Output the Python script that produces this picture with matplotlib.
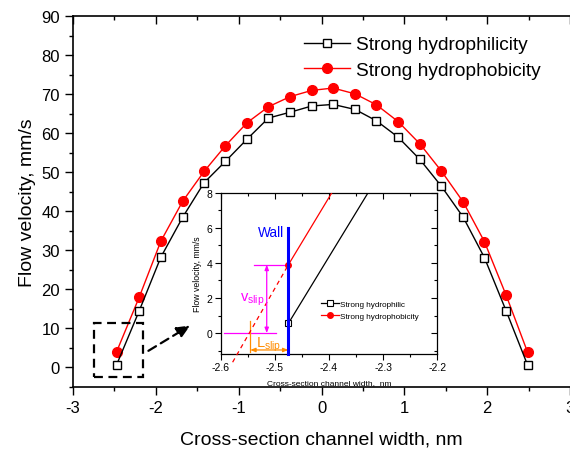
import matplotlib
matplotlib.use('Agg')
import matplotlib.pyplot as plt
from matplotlib.patches import Rectangle
from matplotlib.ticker import MultipleLocator

plt.rcParams['font.family'] = ['Liberation Sans', 'DejaVu Sans']
plt.rcParams['axes.unicode_minus'] = False
plt.rcParams['mathtext.fontset'] = 'custom'
plt.rcParams['mathtext.rm'] = 'Liberation Sans'
plt.rcParams['mathtext.it'] = 'Liberation Sans'

# ---- data ----
x_nm = [-2.475, -2.20, -1.94, -1.675, -1.418, -1.16, -0.899, -0.641, -0.379,
        -0.117, 0.14, 0.406, 0.663, 0.925, 1.187, 1.444, 1.71, 1.967, 2.23, 2.487]
v_hydrophilic = [0.55, 14.5, 28.2, 38.5, 47.3, 52.8, 58.5, 63.9, 65.4,
                 67.0, 67.4, 66.1, 63.2, 59.0, 53.3, 46.5, 38.5, 28.1, 14.4, 0.6]
v_hydrophobic = [3.9, 18.0, 32.3, 42.6, 50.2, 56.8, 62.7, 66.8, 69.4,
                 71.0, 71.6, 70.1, 67.3, 63.0, 57.3, 50.4, 42.4, 32.2, 18.4, 3.9]
label_main = ['Strong hydrophilicity', 'Strong hydrophobicity']
label_inset = ['Strong hydrophilic', 'Strong hydrophobicity']

# annotation geometry (inset)
wall_x = -2.475
wall_top = 6.0
slip_x = -2.5455
ext_x, ext_y = -2.578, -1.67

fig = plt.figure(figsize=(5.7, 4.52), dpi=100)

# ---------------- main axes ----------------
ax = fig.add_axes([0.1281, 0.1423, 0.8719, 0.8194])
ax.plot(x_nm, v_hydrophilic, '-s', color='black', mfc='white', mec='black',
        ms=6, mew=1, lw=1, label=label_main[0], zorder=4)
ax.plot(x_nm, v_hydrophobic, '-o', color='red', mfc='red', mec='red',
        ms=7, lw=1, label=label_main[1], zorder=3)
ax.set_xlim(-3, 3)
ax.set_ylim(-5, 90)
ax.xaxis.set_major_locator(MultipleLocator(1))
ax.xaxis.set_minor_locator(MultipleLocator(0.5))
ax.yaxis.set_major_locator(MultipleLocator(10))
ax.yaxis.set_minor_locator(MultipleLocator(5))
ax.tick_params(which='both', direction='out', labelsize=12, width=1)
ax.tick_params(which='major', length=6)
ax.tick_params(which='minor', length=3)
ax.tick_params(axis='x', which='both', top=True)
ax.spines['right'].set_visible(False)
for s in ['left', 'bottom', 'top']:
    ax.spines[s].set_linewidth(1.2)
# top ticks inward
for t in ax.xaxis.get_major_ticks() + ax.xaxis.get_minor_ticks():
    t.tick2line.set_marker(matplotlib.lines.TICKDOWN)
ax.set_xlabel('Cross-section channel width, nm', fontsize=14, labelpad=11)
ax.set_ylabel('Flow velocity, mm/s', fontsize=14, labelpad=4)

ax.legend(loc='upper left', bbox_to_anchor=(0.45, 0.968), frameon=False,
          fontsize=13.8, handlelength=2.4, handletextpad=0.3, labelspacing=0.42,
          borderaxespad=0)

# dashed zoom box and arrow
ax.add_patch(Rectangle((-2.745, -2.6), 0.585, 13.9, fill=False, ls=(0, (4, 2.5)),
                       lw=1.6, color='black', zorder=5))
ax.annotate('', xy=(-1.585, 10.7), xytext=(-2.09, 4.2),
            arrowprops=dict(arrowstyle='-|>,head_length=0.8,head_width=0.35',
                            ls=(0, (4, 2.5)), lw=1.6, color='black',
                            shrinkA=0, shrinkB=0), zorder=5)

# ---------------- inset ----------------
axi = fig.add_axes([0.3872, 0.2146, 0.38, 0.3562])
axi.set_facecolor('white')
axi.plot(x_nm, v_hydrophilic, '-s', color='black', mfc='white', mec='black',
         ms=4.3, mew=0.8, lw=0.9, label=label_inset[0], zorder=4)
axi.plot(x_nm, v_hydrophobic, '-o', color='red', mfc='red', mec='red',
         ms=4, lw=0.9, label=label_inset[1], zorder=3)
axi.set_xlim(-2.6, -2.2)
axi.set_ylim(-1.2, 8)
axi.xaxis.set_major_locator(MultipleLocator(0.1))
axi.xaxis.set_minor_locator(MultipleLocator(0.05))
axi.yaxis.set_major_locator(MultipleLocator(2))
axi.yaxis.set_minor_locator(MultipleLocator(1))
axi.tick_params(which='both', direction='out', labelsize=7.5, width=0.8, pad=2)
axi.tick_params(which='major', length=4)
axi.tick_params(which='minor', length=2)
axi.tick_params(which='both', top=True, right=True)
for t in axi.xaxis.get_major_ticks() + axi.xaxis.get_minor_ticks():
    t.tick2line.set_marker(matplotlib.lines.TICKDOWN)
for t in axi.yaxis.get_major_ticks() + axi.yaxis.get_minor_ticks():
    t.tick2line.set_marker(matplotlib.lines.TICKLEFT)
for s in axi.spines.values():
    s.set_linewidth(0.9)
axi.set_xlabel('Cross-section channel width,  nm', fontsize=6, labelpad=4.5)
axi.set_ylabel('Flow velocity, mm/s', fontsize=6.3, labelpad=3)
axi.legend(loc='upper left', bbox_to_anchor=(0.447, 0.355), frameon=False,
           fontsize=5.9, handlelength=2.2, handletextpad=0.15, labelspacing=0.5,
           borderaxespad=0)

# wall
axi.plot([wall_x, wall_x], [-1.2, wall_top], color='#0000ff', lw=2.2, zorder=6,
         clip_on=False)
axi.text(wall_x - 0.008, 5.75, 'Wall', color='#0000ff', fontsize=9.8,
         ha='right', va='center')
# red dashed extension
axi.plot([ext_x, x_nm[0]], [ext_y, v_hydrophobic[0]], color='red', lw=0.9,
         ls=(0, (3.5, 3)), clip_on=False, zorder=3)
# v_slip
mag = '#ff00ff'
axi.plot([-2.539, x_nm[0]], [v_hydrophobic[0], v_hydrophobic[0]], color=mag, lw=0.9)
axi.plot([-2.593, -2.4975], [0, 0], color=mag, lw=0.9)
axi.annotate('', xy=(-2.515, 0), xytext=(-2.515, v_hydrophobic[0]),
             arrowprops=dict(arrowstyle='<|-|>,head_length=0.3,head_width=0.12',
                             color=mag, lw=0.9, shrinkA=0, shrinkB=0))
axi.text(-2.541, 1.94, r'$\mathregular{v_{slip}}$', color=mag, fontsize=10.5,
         ha='center', va='center')
# L_slip
org = '#ff8c00'
axi.plot([slip_x, slip_x], [0.67, -1.1], color=org, lw=0.9)
axi.annotate('', xy=(wall_x, -0.97), xytext=(slip_x, -0.97),
             arrowprops=dict(arrowstyle='<|-|>,head_length=0.3,head_width=0.12',
                             color=org, lw=0.9, shrinkA=0, shrinkB=0))
axi.text(-2.511, -0.62, r'$\mathregular{L_{slip}}$', color=org, fontsize=10.5,
         ha='center', va='center')

fig.savefig('out.png', dpi=100)
